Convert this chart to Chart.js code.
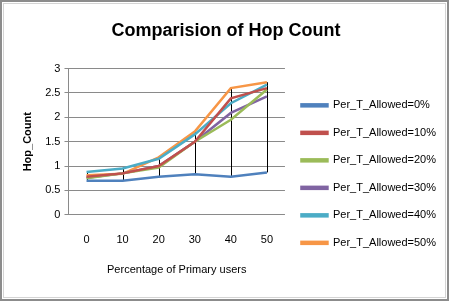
<!DOCTYPE html>
<html>
<head>
<meta charset="utf-8">
<script src="https://cdn.jsdelivr.net/npm/chart.js@4/dist/chart.umd.min.js"></script>
<style>
    html, body { margin: 0; padding: 0; background: #fff; }
    #frame {
        position: relative;
        width: 449px; height: 301px;
        box-sizing: border-box;
        border: 2px solid #8c8c8c;
    }
    #inner {
        position: absolute; left: 1px; top: 1px; right: 1px; bottom: 1px;
        border: 1px solid #d4d4d4;
    }
    #hopChart { position: absolute; left: 0; top: 0; }
</style>
</head>
<body>
<div id="frame">
    <div id="inner"></div>
    <canvas id="hopChart" width="445" height="297"></canvas>
</div>
<script>
// Comparision of Hop Count - one line per allowed transmission percentage
const primaryUsers = ['0', '10', '20', '30', '40', '50'];

const allowed0  = [0.70, 0.70, 0.78, 0.83, 0.78, 0.87];
const allowed10 = [0.78, 0.85, 1.00, 1.50, 2.39, 2.60];
const allowed20 = [0.75, 0.85, 0.97, 1.50, 1.95, 2.57];
const allowed30 = [0.76, 0.85, 1.00, 1.50, 2.09, 2.43];
const allowed40 = [0.88, 0.95, 1.15, 1.65, 2.29, 2.67];
const allowed50 = [0.81, 0.84, 1.18, 1.71, 2.60, 2.72];

const seriesNames = [
    'Per_T_Allowed=0%',
    'Per_T_Allowed=10%',
    'Per_T_Allowed=20%',
    'Per_T_Allowed=30%',
    'Per_T_Allowed=40%',
    'Per_T_Allowed=50%'
];
const seriesValues = [allowed0, allowed10, allowed20, allowed30, allowed40, allowed50];
const seriesColors = ['#4F81BD', '#C0504D', '#9BBB59', '#8064A2', '#4BACC6', '#F79646'];

const FONT = '"Liberation Sans", "DejaVu Sans", sans-serif';

// Excel style high-low lines: from lowest to highest series value at each category
const highLowLines = {
    id: 'highLowLines',
    beforeDatasetsDraw(chart) {
        const { ctx, scales: { x, y } } = chart;
        ctx.save();
        ctx.strokeStyle = '#000';
        ctx.lineWidth = 1;
        primaryUsers.forEach((_, i) => {
            const vals = seriesValues.map(s => s[i]);
            const px = Math.round(x.getPixelForValue(i)) + 0.5;
            ctx.beginPath();
            ctx.moveTo(px, y.getPixelForValue(Math.min(...vals)));
            ctx.lineTo(px, y.getPixelForValue(Math.max(...vals)));
            ctx.stroke();
        });
        ctx.restore();
    }
};

new Chart(document.getElementById('hopChart'), {
    type: 'line',
    data: {
        labels: primaryUsers,
        datasets: seriesNames.map((name, i) => ({
            label: name,
            data: seriesValues[i],
            borderColor: seriesColors[i],
            backgroundColor: seriesColors[i],
            borderWidth: 2.5,
            pointRadius: 0,
            tension: 0,
            fill: false
        }))
    },
    options: {
        responsive: false,
        animation: false,
        layout: { padding: { left: 4, right: 1, top: 6, bottom: 22 } },
        plugins: {
            title: {
                display: true,
                text: 'Comparision of Hop Count',
                color: '#000',
                font: { family: FONT, size: 18, weight: 'bold' },
                padding: { top: 12, bottom: 27 }
            },
            legend: {
                position: 'right',
                fullSize: true,
                maxWidth: 180,
                // empty title only pushes the entries down, as in the original
                title: { display: true, text: ' ', font: { size: 1 }, padding: 31 },
                labels: {
                    color: '#000',
                    font: { family: FONT, size: 11 },
                    boxWidth: 26,
                    boxHeight: 2,
                    padding: 16.5
                }
            },
            tooltip: { enabled: false }
        },
        scales: {
            x: {
                offset: true,
                grid: { display: false, drawTicks: false },
                border: { display: false },
                ticks: { color: '#000', font: { family: FONT, size: 11, lineHeight: 1 }, padding: 20 },
                title: {
                    display: true,
                    text: 'Percentage of Primary users',
                    color: '#000',
                    font: { family: FONT, size: 11 },
                    padding: { top: -2, bottom: 0 }
                }
            },
            y: {
                min: 0,
                max: 3,
                ticks: {
                    stepSize: 0.5,
                    color: '#000',
                    font: { family: FONT, size: 11 },
                    padding: 4,
                    callback: v => String(v)
                },
                grid: { color: '#8a8a8a', drawTicks: true, tickLength: 4 },
                border: { color: '#8a8a8a' },
                title: {
                    display: true,
                    text: 'Hop_Count',
                    color: '#000',
                    font: { family: FONT, size: 11, weight: 'bold' },
                    padding: { top: 15.5, bottom: 6.5 }
                }
            }
        }
    },
    plugins: [highLowLines]
});
</script>
</body>
</html>
